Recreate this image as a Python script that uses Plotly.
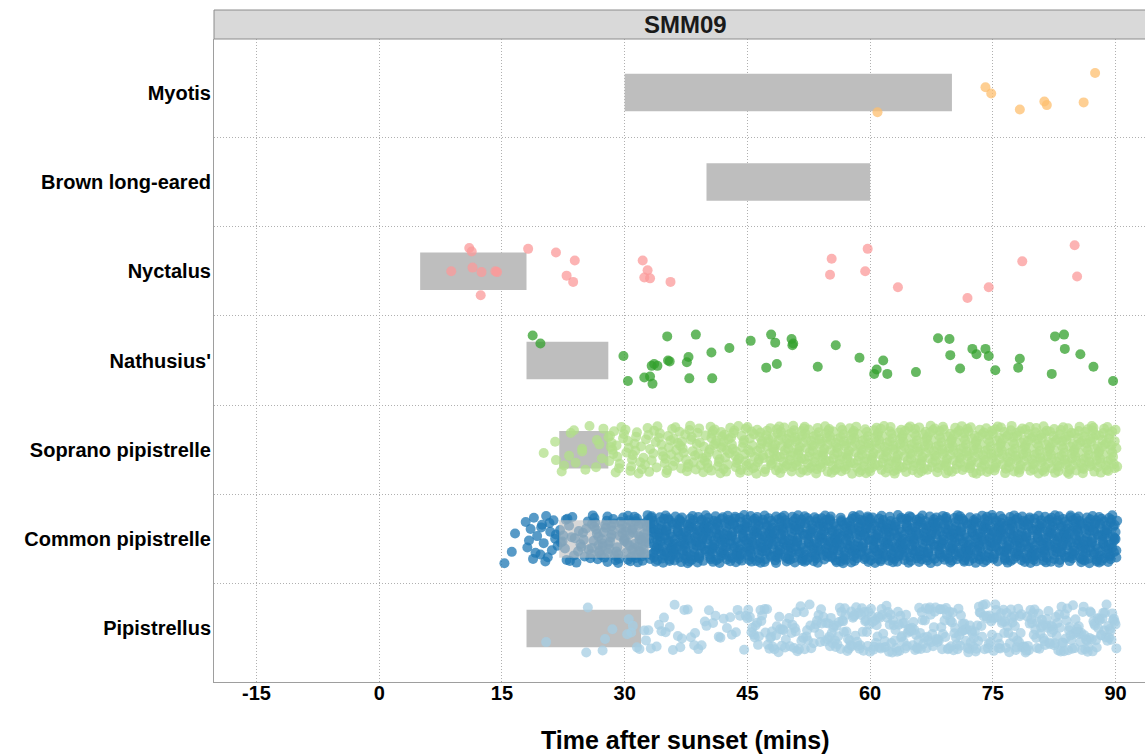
import plotly.graph_objects as go

# ---------------- data ----------------
species = ["Pipistrellus", "Common pipistrelle", "Soprano pipistrelle",
           "Nathusius'", "Nyctalus", "Brown long-eared", "Myotis"]
colors = ["#A6CEE3", "#1F78B4", "#B2DF8A", "#33A02C", "#FB9A99", "#FDBF6F", "#FDBF6F"]

bar_start = [18, 22, 22, 18, 5, 40, 30]
bar_end = [32, 33, 28, 28, 18, 60, 70]

x_ticks = [-15, 0, 15, 30, 45, 60, 75, 90]
panel_label = "SMM09"
x_title = "Time after sunset (mins)"

myotis_times = [74.1, 74.8, 60.9, 78.3, 81.3, 81.6, 86.1, 87.5]
myotis_jit = [0.06, -0.01, -0.22, -0.19, -0.10, -0.14, -0.11, 0.22]

nyctalus_times = [11.0, 11.3, 18.2, 21.6, 23.9, 22.9, 23.7, 8.8, 11.4, 12.5, 14.2, 14.4, 12.4,
                  32.2, 32.8, 32.4, 33.1, 35.6, 55.3, 55.1, 59.7, 59.4, 63.4, 71.9, 74.5, 78.6,
                  85.0, 85.3]
nyctalus_jit = [0.26, 0.22, 0.25, 0.21, 0.12, -0.05, -0.12, 0.0, 0.04, -0.01, 0.0, -0.01, -0.27,
                0.12, 0.01, -0.07, -0.08, -0.12, 0.14, -0.04, 0.25, 0.0, -0.18, -0.30, -0.18, 0.11,
                0.29, -0.06]

nathusius_times = [18.75, 19.7, 29.85, 30.4, 32.4, 33.1, 33.4, 33.3, 33.6, 34.0, 35.2, 35.3, 35.5,
                   37.6, 37.8, 37.9, 38.7, 40.6, 40.7, 42.8, 45.4, 47.3, 47.9, 48.4, 48.6, 50.4,
                   50.6, 50.5, 53.6, 55.8, 58.7, 60.5, 60.8, 61.6, 62.1, 65.6, 68.3, 69.7, 69.8,
                   71.0, 72.5, 73.0, 74.1, 74.5, 75.3, 78.1, 78.3, 82.2, 82.6, 83.7, 83.8, 85.7,
                   87.3, 89.7]
nathusius_jit = [0.28, 0.19, 0.05, -0.23, -0.19, -0.18, -0.26, -0.06, -0.04, -0.06, 0.27, 0.0, -0.01,
                 -0.02, 0.04, -0.20, 0.29, 0.09, -0.20, 0.14, 0.22, -0.08, 0.29, 0.20, -0.04, 0.24,
                 0.19, 0.17, -0.07, 0.17, 0.03, -0.15, -0.10, 0.0, -0.15, -0.13, 0.25, 0.24, 0.06,
                 -0.09, 0.13, 0.07, 0.13, 0.05, -0.11, -0.08, 0.02, -0.15, 0.27, 0.29, 0.13, 0.07,
                 -0.07, -0.23]

common_times = [
    15.3, 16.6, 16.2, 17.9, 18.3, 18.8, 18.5, 18.1, 18.9, 19.3, 19.7, 19.9, 20.1, 20.3, 20.9, 21.1, 21.3, 21.5, 20.6, 19.8, 21.8, 20.4, 21.6, 19.1, 20.8,
    22.4, 22.9, 22.1, 22.7, 23.0, 23.5, 23.8, 23.2, 24.6, 24.1, 24.9, 24.3, 25.5, 25.0, 25.8, 25.3, 24.7, 23.6, 22.5, 25.9, 26.0, 22.2, 23.3, 24.4, 25.6, 22.8, 23.9, 25.1,
    26.3, 26.8, 26.1, 26.6, 26.9, 26.4, 26.2, 26.7, 26.5, 26.0, 26.3, 26.8,
    27.1, 27.6, 27.3, 27.9, 27.4, 27.0, 27.8, 27.2, 27.5, 27.7, 27.3, 27.9,
    28.4, 28.0, 28.7, 28.2, 28.9, 28.5, 28.1, 28.6, 28.3, 28.8, 28.4, 28.0,
    29.2, 29.7, 29.0, 29.5, 29.9, 29.3, 29.6, 29.1, 29.8, 29.4, 29.2, 29.7,
    30.3, 30.7, 30.1, 30.9, 30.5, 30.0, 30.8, 30.2, 30.6, 30.4, 30.6, 30.2, 30.8, 30.0, 30.4, 30.9,
    31.1, 31.5, 31.9, 31.3, 31.7, 31.2, 31.6, 31.0, 31.8, 31.4, 31.8, 31.4, 31.0, 31.6, 31.2, 31.7,
    32.4, 32.0, 32.6, 32.2, 32.8, 32.3, 32.9, 32.5, 32.1, 32.7, 32.2, 32.8, 32.4, 32.0, 32.6, 32.1,
    33.1, 33.5, 33.9, 33.3, 33.7, 33.2, 33.6, 33.0, 33.8, 33.4, 33.8, 33.4, 33.0, 33.6, 33.2, 33.7, 33.3, 33.9, 33.5, 33.1,
    34.4, 34.0, 34.6, 34.2, 34.8, 34.3, 34.9, 34.5, 34.1, 34.7, 34.2, 34.8, 34.4, 34.0, 34.6, 34.1, 34.7, 34.3, 34.9, 34.5,
    35.9, 35.3, 35.5, 35.1, 35.7, 35.4, 35.0, 35.6, 35.2, 35.8, 35.0, 35.6, 35.2, 35.8, 35.4, 35.5, 35.1, 35.7, 35.3, 35.9,
    36.3, 36.7, 36.1, 36.9, 36.5, 36.0, 36.8, 36.2, 36.6, 36.4, 36.6, 36.2, 36.8, 36.0, 36.4, 36.9, 36.1, 36.5, 36.3, 36.7,
    37.1, 37.5, 37.9, 37.3, 37.7, 37.2, 37.6, 37.0, 37.8, 37.4, 37.8, 37.4, 37.0, 37.6, 37.2, 37.7, 37.3, 37.9, 37.5, 37.1,
    38.4, 38.0, 38.6, 38.2, 38.8, 38.3, 38.9, 38.5, 38.1, 38.7, 38.2, 38.8, 38.4, 38.0, 38.6, 38.1, 38.7, 38.3, 38.9, 38.5,
    39.9, 39.3, 39.5, 39.1, 39.7, 39.4, 39.0, 39.6, 39.2, 39.8, 39.0, 39.6, 39.2, 39.8, 39.4, 39.5, 39.1, 39.7, 39.3, 39.9,
    40.3, 40.7, 40.1, 40.9, 40.5, 40.0, 40.8, 40.2, 40.6, 40.4, 40.6, 40.2, 40.8, 40.0, 40.4, 40.9, 40.1, 40.5, 40.3, 40.7,
    41.1, 41.5, 41.9, 41.3, 41.7, 41.2, 41.6, 41.0, 41.8, 41.4, 41.8, 41.4, 41.0, 41.6, 41.2, 41.7, 41.3, 41.9, 41.5, 41.1,
    42.4, 42.0, 42.6, 42.2, 42.8, 42.3, 42.9, 42.5, 42.1, 42.7, 42.2, 42.8, 42.4, 42.0, 42.6, 42.1, 42.7, 42.3, 42.9, 42.5,
    43.9, 43.3, 43.5, 43.1, 43.7, 43.4, 43.0, 43.6, 43.2, 43.8, 43.0, 43.6, 43.2, 43.8, 43.4, 43.5, 43.1, 43.7, 43.3, 43.9,
    44.3, 44.7, 44.1, 44.9, 44.5, 44.0, 44.8, 44.2, 44.6, 44.4, 44.6, 44.2, 44.8, 44.0, 44.4, 44.9, 44.1, 44.5, 44.3, 44.7,
    45.1, 45.5, 45.9, 45.3, 45.7, 45.2, 45.6, 45.0, 45.8, 45.4, 45.8, 45.4, 45.0, 45.6, 45.2, 45.7, 45.3, 45.9, 45.5, 45.1,
    46.4, 46.0, 46.6, 46.2, 46.8, 46.3, 46.9, 46.5, 46.1, 46.7, 46.2, 46.8, 46.4, 46.0, 46.6, 46.1, 46.7, 46.3, 46.9, 46.5,
    47.9, 47.3, 47.5, 47.1, 47.7, 47.4, 47.0, 47.6, 47.2, 47.8, 47.0, 47.6, 47.2, 47.8, 47.4, 47.5, 47.1, 47.7, 47.3, 47.9,
    48.3, 48.7, 48.1, 48.9, 48.5, 48.0, 48.8, 48.2, 48.6, 48.4, 48.6, 48.2, 48.8, 48.0, 48.4, 48.9, 48.1, 48.5, 48.3, 48.7,
    49.1, 49.5, 49.9, 49.3, 49.7, 49.2, 49.6, 49.0, 49.8, 49.4, 49.8, 49.4, 49.0, 49.6, 49.2, 49.7, 49.3, 49.9, 49.5, 49.1,
    50.4, 50.0, 50.6, 50.2, 50.8, 50.3, 50.9, 50.5, 50.1, 50.7, 50.2, 50.8, 50.4, 50.0, 50.6, 50.1, 50.7, 50.3, 50.9, 50.5,
    51.9, 51.3, 51.5, 51.1, 51.7, 51.4, 51.0, 51.6, 51.2, 51.8, 51.0, 51.6, 51.2, 51.8, 51.4, 51.5, 51.1, 51.7, 51.3, 51.9,
    52.3, 52.7, 52.1, 52.9, 52.5, 52.0, 52.8, 52.2, 52.6, 52.4, 52.6, 52.2, 52.8, 52.0, 52.4, 52.9, 52.1, 52.5, 52.3, 52.7,
    53.1, 53.5, 53.9, 53.3, 53.7, 53.2, 53.6, 53.0, 53.8, 53.4, 53.8, 53.4, 53.0, 53.6, 53.2, 53.7, 53.3, 53.9, 53.5, 53.1,
    54.4, 54.0, 54.6, 54.2, 54.8, 54.3, 54.9, 54.5, 54.1, 54.7, 54.2, 54.8, 54.4, 54.0, 54.6, 54.1, 54.7, 54.3, 54.9, 54.5,
    55.9, 55.3, 55.5, 55.1, 55.7, 55.4, 55.0, 55.6, 55.2, 55.8, 55.0, 55.6, 55.2, 55.8, 55.4, 55.5, 55.1, 55.7, 55.3, 55.9,
    56.3, 56.7, 56.1, 56.9, 56.5, 56.0, 56.8, 56.2, 56.6, 56.4, 56.6, 56.2, 56.8, 56.0, 56.4, 56.9, 56.1, 56.5, 56.3, 56.7,
    57.1, 57.5, 57.9, 57.3, 57.7, 57.2, 57.6, 57.0, 57.8, 57.4, 57.8, 57.4, 57.0, 57.6, 57.2, 57.7, 57.3, 57.9, 57.5, 57.1,
    58.4, 58.0, 58.6, 58.2, 58.8, 58.3, 58.9, 58.5, 58.1, 58.7, 58.2, 58.8, 58.4, 58.0, 58.6, 58.1, 58.7, 58.3, 58.9, 58.5,
    59.9, 59.3, 59.5, 59.1, 59.7, 59.4, 59.0, 59.6, 59.2, 59.8, 59.0, 59.6, 59.2, 59.8, 59.4, 59.5, 59.1, 59.7, 59.3, 59.9,
    60.3, 60.7, 60.1, 60.9, 60.5, 60.0, 60.8, 60.2, 60.6, 60.4, 60.6, 60.2, 60.8, 60.0, 60.4, 60.9, 60.1, 60.5, 60.3, 60.7,
    61.1, 61.5, 61.9, 61.3, 61.7, 61.2, 61.6, 61.0, 61.8, 61.4, 61.8, 61.4, 61.0, 61.6, 61.2, 61.7, 61.3, 61.9, 61.5, 61.1,
    62.4, 62.0, 62.6, 62.2, 62.8, 62.3, 62.9, 62.5, 62.1, 62.7, 62.2, 62.8, 62.4, 62.0, 62.6, 62.1, 62.7, 62.3, 62.9, 62.5,
    63.9, 63.3, 63.5, 63.1, 63.7, 63.4, 63.0, 63.6, 63.2, 63.8, 63.0, 63.6, 63.2, 63.8, 63.4, 63.5, 63.1, 63.7, 63.3, 63.9,
    64.3, 64.7, 64.1, 64.9, 64.5, 64.0, 64.8, 64.2, 64.6, 64.4, 64.6, 64.2, 64.8, 64.0, 64.4, 64.9, 64.1, 64.5, 64.3, 64.7,
    65.1, 65.5, 65.9, 65.3, 65.7, 65.2, 65.6, 65.0, 65.8, 65.4, 65.8, 65.4, 65.0, 65.6, 65.2, 65.7, 65.3, 65.9, 65.5, 65.1,
    66.4, 66.0, 66.6, 66.2, 66.8, 66.3, 66.9, 66.5, 66.1, 66.7, 66.2, 66.8, 66.4, 66.0, 66.6, 66.1, 66.7, 66.3, 66.9, 66.5,
    67.9, 67.3, 67.5, 67.1, 67.7, 67.4, 67.0, 67.6, 67.2, 67.8, 67.0, 67.6, 67.2, 67.8, 67.4, 67.5, 67.1, 67.7, 67.3, 67.9,
    68.3, 68.7, 68.1, 68.9, 68.5, 68.0, 68.8, 68.2, 68.6, 68.4, 68.6, 68.2, 68.8, 68.0, 68.4, 68.9, 68.1, 68.5, 68.3, 68.7,
    69.1, 69.5, 69.9, 69.3, 69.7, 69.2, 69.6, 69.0, 69.8, 69.4, 69.8, 69.4, 69.0, 69.6, 69.2, 69.7, 69.3, 69.9, 69.5, 69.1,
    70.4, 70.0, 70.6, 70.2, 70.8, 70.3, 70.9, 70.5, 70.1, 70.7, 70.2, 70.8, 70.4, 70.0, 70.6, 70.1, 70.7, 70.3, 70.9, 70.5,
    71.9, 71.3, 71.5, 71.1, 71.7, 71.4, 71.0, 71.6, 71.2, 71.8, 71.0, 71.6, 71.2, 71.8, 71.4, 71.5, 71.1, 71.7, 71.3, 71.9,
    72.3, 72.7, 72.1, 72.9, 72.5, 72.0, 72.8, 72.2, 72.6, 72.4, 72.6, 72.2, 72.8, 72.0, 72.4, 72.9, 72.1, 72.5, 72.3, 72.7,
    73.1, 73.5, 73.9, 73.3, 73.7, 73.2, 73.6, 73.0, 73.8, 73.4, 73.8, 73.4, 73.0, 73.6, 73.2, 73.7, 73.3, 73.9, 73.5, 73.1,
    74.4, 74.0, 74.6, 74.2, 74.8, 74.3, 74.9, 74.5, 74.1, 74.7, 74.2, 74.8, 74.4, 74.0, 74.6, 74.1, 74.7, 74.3, 74.9, 74.5,
    75.9, 75.3, 75.5, 75.1, 75.7, 75.4, 75.0, 75.6, 75.2, 75.8, 75.0, 75.6, 75.2, 75.8, 75.4, 75.5, 75.1, 75.7, 75.3, 75.9,
    76.3, 76.7, 76.1, 76.9, 76.5, 76.0, 76.8, 76.2, 76.6, 76.4, 76.6, 76.2, 76.8, 76.0, 76.4, 76.9, 76.1, 76.5, 76.3, 76.7,
    77.1, 77.5, 77.9, 77.3, 77.7, 77.2, 77.6, 77.0, 77.8, 77.4, 77.8, 77.4, 77.0, 77.6, 77.2, 77.7, 77.3, 77.9, 77.5, 77.1,
    78.4, 78.0, 78.6, 78.2, 78.8, 78.3, 78.9, 78.5, 78.1, 78.7, 78.2, 78.8, 78.4, 78.0, 78.6, 78.1, 78.7, 78.3, 78.9, 78.5,
    79.9, 79.3, 79.5, 79.1, 79.7, 79.4, 79.0, 79.6, 79.2, 79.8, 79.0, 79.6, 79.2, 79.8, 79.4, 79.5, 79.1, 79.7, 79.3, 79.9,
    80.3, 80.7, 80.1, 80.9, 80.5, 80.0, 80.8, 80.2, 80.6, 80.4, 80.6, 80.2, 80.8, 80.0, 80.4, 80.9, 80.1, 80.5, 80.3, 80.7,
    81.1, 81.5, 81.9, 81.3, 81.7, 81.2, 81.6, 81.0, 81.8, 81.4, 81.8, 81.4, 81.0, 81.6, 81.2, 81.7, 81.3, 81.9, 81.5, 81.1,
    82.4, 82.0, 82.6, 82.2, 82.8, 82.3, 82.9, 82.5, 82.1, 82.7, 82.2, 82.8, 82.4, 82.0, 82.6, 82.1, 82.7, 82.3, 82.9, 82.5,
    83.9, 83.3, 83.5, 83.1, 83.7, 83.4, 83.0, 83.6, 83.2, 83.8, 83.0, 83.6, 83.2, 83.8, 83.4, 83.5, 83.1, 83.7, 83.3, 83.9,
    84.3, 84.7, 84.1, 84.9, 84.5, 84.0, 84.8, 84.2, 84.6, 84.4, 84.6, 84.2, 84.8, 84.0, 84.4, 84.9, 84.1, 84.5, 84.3, 84.7,
    85.1, 85.5, 85.9, 85.3, 85.7, 85.2, 85.6, 85.0, 85.8, 85.4, 85.8, 85.4, 85.0, 85.6, 85.2, 85.7, 85.3, 85.9, 85.5, 85.1,
    86.4, 86.0, 86.6, 86.2, 86.8, 86.3, 86.9, 86.5, 86.1, 86.7, 86.2, 86.8, 86.4, 86.0, 86.6, 86.1, 86.7, 86.3, 86.9, 86.5,
    87.9, 87.3, 87.5, 87.1, 87.7, 87.4, 87.0, 87.6, 87.2, 87.8, 87.0, 87.6, 87.2, 87.8, 87.4, 87.5, 87.1, 87.7, 87.3, 87.9,
    88.3, 88.7, 88.1, 88.9, 88.5, 88.0, 88.8, 88.2, 88.6, 88.4, 88.6, 88.2, 88.8, 88.0, 88.4, 88.9, 88.1, 88.5, 88.3, 88.7,
    89.1, 89.5, 89.9, 89.3, 89.7, 89.2, 89.6, 89.0, 89.8, 89.4, 89.8, 89.4, 89.0, 89.6, 89.2, 89.7, 89.3, 89.9, 89.5, 89.1,
    90.0, 90.1, 90.2, 90.0, 90.1,
]

soprano_times = [
    20.1, 22.3, 21.5, 21.6, 23.8, 24.8, 26.5, 28.0, 23.2, 25.7, 26.9, 24.0, 23.4, 24.8, 25.2, 26.6, 27.2, 27.4, 28.3, 22.6,
    28.2, 28.6, 28.9, 28.4, 28.1, 28.7, 28.5,
    29.3, 29.8, 29.1, 29.6, 29.0, 29.4, 29.9,
    30.2, 30.7, 30.4, 30.9, 30.1, 30.5, 30.8,
    31.4, 31.0, 31.7, 31.2, 31.9, 31.5, 31.3,
    32.1, 32.6, 32.3, 32.8, 32.0, 32.5, 32.9,
    33.5, 33.0, 33.8, 33.3, 33.6, 33.1, 33.9,
    34.2, 34.7, 34.0, 34.5, 34.9, 34.3, 34.6,
    35.2, 35.6, 35.0, 35.8, 35.4, 35.9, 35.3, 35.7, 35.1,
    36.5, 36.1, 36.7, 36.3, 36.9, 36.0, 36.6, 36.2, 36.8,
    37.8, 37.4, 37.2, 37.6, 37.0, 37.5, 37.9, 37.1, 37.7,
    38.2, 38.6, 38.0, 38.8, 38.4, 38.9, 38.3, 38.7, 38.1,
    39.5, 39.1, 39.7, 39.3, 39.9, 39.0, 39.6, 39.2, 39.8,
    40.8, 40.4, 40.2, 40.6, 40.0, 40.5, 40.9, 40.1, 40.7, 40.3, 40.6,
    41.2, 41.6, 41.0, 41.8, 41.4, 41.9, 41.3, 41.7, 41.1, 41.5, 41.8,
    42.5, 42.1, 42.7, 42.3, 42.9, 42.0, 42.6, 42.2, 42.8, 42.4, 42.1,
    43.8, 43.4, 43.2, 43.6, 43.0, 43.5, 43.9, 43.1, 43.7, 43.3, 43.6,
    44.2, 44.6, 44.0, 44.8, 44.4, 44.9, 44.3, 44.7, 44.1, 44.5, 44.8,
    45.5, 45.1, 45.7, 45.3, 45.9, 45.0, 45.6, 45.2, 45.8, 45.4, 45.1,
    46.8, 46.4, 46.2, 46.6, 46.0, 46.5, 46.9, 46.1, 46.7, 46.3, 46.6, 46.2,
    47.2, 47.6, 47.0, 47.8, 47.4, 47.9, 47.3, 47.7, 47.1, 47.5, 47.8, 47.4,
    48.3, 48.8, 48.1, 48.6, 48.9, 48.4, 48.0, 48.7, 48.2, 48.5, 48.8, 48.3, 48.6, 48.1,
    49.7, 49.2, 49.5, 49.0, 49.9, 49.4, 49.1, 49.6, 49.3, 49.8, 49.0, 49.5, 49.2, 49.9,
    50.1, 50.6, 50.4, 50.9, 50.2, 50.7, 50.0, 50.5, 50.8, 50.3, 50.6, 50.1, 50.9, 50.4,
    51.3, 51.8, 51.1, 51.6, 51.9, 51.4, 51.0, 51.7, 51.2, 51.5, 51.8, 51.3, 51.6, 51.1,
    52.7, 52.2, 52.5, 52.0, 52.9, 52.4, 52.1, 52.6, 52.3, 52.8, 52.0, 52.5, 52.2, 52.9,
    53.1, 53.6, 53.4, 53.9, 53.2, 53.7, 53.0, 53.5, 53.8, 53.3, 53.6, 53.1, 53.9, 53.4,
    54.3, 54.8, 54.1, 54.6, 54.9, 54.4, 54.0, 54.7, 54.2, 54.5, 54.8, 54.3, 54.6, 54.1,
    55.7, 55.2, 55.5, 55.0, 55.9, 55.4, 55.1, 55.6, 55.3, 55.8, 55.0, 55.5, 55.2, 55.9,
    56.1, 56.6, 56.4, 56.9, 56.2, 56.7, 56.0, 56.5, 56.8, 56.3, 56.6, 56.1, 56.9, 56.4,
    57.3, 57.8, 57.1, 57.6, 57.9, 57.4, 57.0, 57.7, 57.2, 57.5, 57.8, 57.3, 57.6, 57.1,
    58.7, 58.2, 58.5, 58.0, 58.9, 58.4, 58.1, 58.6, 58.3, 58.8, 58.0, 58.5, 58.2, 58.9,
    59.1, 59.6, 59.4, 59.9, 59.2, 59.7, 59.0, 59.5, 59.8, 59.3, 59.6, 59.1, 59.9, 59.4,
    60.3, 60.8, 60.1, 60.6, 60.9, 60.4, 60.0, 60.7, 60.2, 60.5, 60.8, 60.3, 60.6, 60.1,
    61.7, 61.2, 61.5, 61.0, 61.9, 61.4, 61.1, 61.6, 61.3, 61.8, 61.0, 61.5, 61.2, 61.9,
    62.1, 62.6, 62.4, 62.9, 62.2, 62.7, 62.0, 62.5, 62.8, 62.3, 62.6, 62.1, 62.9, 62.4,
    63.3, 63.8, 63.1, 63.6, 63.9, 63.4, 63.0, 63.7, 63.2, 63.5, 63.8, 63.3, 63.6, 63.1,
    64.7, 64.2, 64.5, 64.0, 64.9, 64.4, 64.1, 64.6, 64.3, 64.8, 64.0, 64.5, 64.2, 64.9,
    65.1, 65.6, 65.4, 65.9, 65.2, 65.7, 65.0, 65.5, 65.8, 65.3, 65.6, 65.1, 65.9, 65.4,
    66.3, 66.8, 66.1, 66.6, 66.9, 66.4, 66.0, 66.7, 66.2, 66.5, 66.8, 66.3, 66.6, 66.1,
    67.7, 67.2, 67.5, 67.0, 67.9, 67.4, 67.1, 67.6, 67.3, 67.8, 67.0, 67.5, 67.2, 67.9,
    68.1, 68.6, 68.4, 68.9, 68.2, 68.7, 68.0, 68.5, 68.8, 68.3, 68.6, 68.1, 68.9, 68.4,
    69.3, 69.8, 69.1, 69.6, 69.9, 69.4, 69.0, 69.7, 69.2, 69.5, 69.8, 69.3, 69.6, 69.1,
    70.7, 70.2, 70.5, 70.0, 70.9, 70.4, 70.1, 70.6, 70.3, 70.8, 70.0, 70.5, 70.2, 70.9,
    71.1, 71.6, 71.4, 71.9, 71.2, 71.7, 71.0, 71.5, 71.8, 71.3, 71.6, 71.1, 71.9, 71.4,
    72.3, 72.8, 72.1, 72.6, 72.9, 72.4, 72.0, 72.7, 72.2, 72.5, 72.8, 72.3, 72.6, 72.1,
    73.7, 73.2, 73.5, 73.0, 73.9, 73.4, 73.1, 73.6, 73.3, 73.8, 73.0, 73.5, 73.2, 73.9,
    74.1, 74.6, 74.4, 74.9, 74.2, 74.7, 74.0, 74.5, 74.8, 74.3, 74.6, 74.1, 74.9, 74.4,
    75.3, 75.8, 75.1, 75.6, 75.9, 75.4, 75.0, 75.7, 75.2, 75.5, 75.8, 75.3, 75.6, 75.1,
    76.7, 76.2, 76.5, 76.0, 76.9, 76.4, 76.1, 76.6, 76.3, 76.8, 76.0, 76.5, 76.2, 76.9,
    77.1, 77.6, 77.4, 77.9, 77.2, 77.7, 77.0, 77.5, 77.8, 77.3, 77.6, 77.1, 77.9, 77.4,
    78.3, 78.8, 78.1, 78.6, 78.9, 78.4, 78.0, 78.7, 78.2, 78.5, 78.8, 78.3, 78.6, 78.1,
    79.7, 79.2, 79.5, 79.0, 79.9, 79.4, 79.1, 79.6, 79.3, 79.8, 79.0, 79.5, 79.2, 79.9,
    80.1, 80.6, 80.4, 80.9, 80.2, 80.7, 80.0, 80.5, 80.8, 80.3, 80.6, 80.1, 80.9, 80.4,
    81.3, 81.8, 81.1, 81.6, 81.9, 81.4, 81.0, 81.7, 81.2, 81.5, 81.8, 81.3, 81.6, 81.1,
    82.7, 82.2, 82.5, 82.0, 82.9, 82.4, 82.1, 82.6, 82.3, 82.8, 82.0, 82.5, 82.2, 82.9,
    83.1, 83.6, 83.4, 83.9, 83.2, 83.7, 83.0, 83.5, 83.8, 83.3, 83.6, 83.1, 83.9, 83.4,
    84.3, 84.8, 84.1, 84.6, 84.9, 84.4, 84.0, 84.7, 84.2, 84.5, 84.8, 84.3, 84.6, 84.1,
    85.7, 85.2, 85.5, 85.0, 85.9, 85.4, 85.1, 85.6, 85.3, 85.8, 85.0, 85.5, 85.2, 85.9,
    86.1, 86.6, 86.4, 86.9, 86.2, 86.7, 86.0, 86.5, 86.8, 86.3, 86.6, 86.1, 86.9, 86.4,
    87.3, 87.8, 87.1, 87.6, 87.9, 87.4, 87.0, 87.7, 87.2, 87.5, 87.8, 87.3, 87.6, 87.1,
    88.7, 88.2, 88.5, 88.0, 88.9, 88.4, 88.1, 88.6, 88.3, 88.8, 88.0, 88.5, 88.2, 88.9,
    89.1, 89.6, 89.4, 89.9, 89.2, 89.7, 89.0, 89.5, 89.8, 89.3, 89.6, 89.1, 89.9, 89.4,
    90.0, 90.1, 90.2,
]

pip_times = [
    20.4, 27.3, 27.6, 25.5, 25.3, 28.5,
    30.3, 30.5, 30.8, 31.0, 31.5, 31.8, 32.4, 32.6, 32.9, 33.2, 33.9, 34.2, 34.5, 34.8,
    35.0, 35.5, 35.9, 36.1, 36.5, 36.8, 37.0, 37.3, 37.7, 38.1, 38.5, 38.6, 39.0, 39.4,
    39.8, 40.0, 40.3, 40.8, 41.1, 41.5, 41.7, 42.1, 42.5, 42.9, 43.1, 43.6, 43.8, 44.1,
    44.6, 44.8,
    45.1, 45.5, 45.8, 45.3, 45.6, 45.0, 45.9,
    46.4, 46.8, 46.2, 46.6, 46.0, 46.7, 46.3,
    47.7, 47.2, 47.5, 47.9, 47.1, 47.4, 47.8,
    48.1, 48.5, 48.8, 48.3, 48.6, 48.0, 48.9,
    49.4, 49.8, 49.2, 49.6, 49.0, 49.7, 49.3,
    50.7, 50.2, 50.5, 50.9, 50.1, 50.4, 50.8,
    51.1, 51.5, 51.8, 51.3, 51.6, 51.0, 51.9,
    52.4, 52.8, 52.2, 52.6, 52.0, 52.7, 52.3,
    53.7, 53.2, 53.5, 53.9, 53.1, 53.4, 53.8,
    54.1, 54.5, 54.8, 54.3, 54.6, 54.0, 54.9,
    55.2, 55.7, 55.4, 55.9, 55.0, 55.5, 55.8, 55.1, 55.6, 55.3,
    56.6, 56.1, 56.8, 56.3, 56.5, 56.0, 56.9, 56.4, 56.7, 56.2,
    57.2, 57.7, 57.4, 57.9, 57.0, 57.5, 57.8, 57.1, 57.6, 57.3,
    58.6, 58.1, 58.8, 58.3, 58.5, 58.0, 58.9, 58.4, 58.7, 58.2,
    59.2, 59.7, 59.4, 59.9, 59.0, 59.5, 59.8, 59.1, 59.6, 59.3,
    60.6, 60.1, 60.8, 60.3, 60.5, 60.0, 60.9, 60.4, 60.7, 60.2,
    61.2, 61.7, 61.4, 61.9, 61.0, 61.5, 61.8, 61.1, 61.6, 61.3,
    62.6, 62.1, 62.8, 62.3, 62.5, 62.0, 62.9, 62.4, 62.7, 62.2,
    63.2, 63.7, 63.4, 63.9, 63.0, 63.5, 63.8, 63.1, 63.6, 63.3,
    64.6, 64.1, 64.8, 64.3, 64.5, 64.0, 64.9, 64.4, 64.7, 64.2,
    65.2, 65.7, 65.4, 65.9, 65.0, 65.5, 65.8, 65.1, 65.6, 65.3,
    66.6, 66.1, 66.8, 66.3, 66.5, 66.0, 66.9, 66.4, 66.7, 66.2,
    67.2, 67.7, 67.4, 67.9, 67.0, 67.5, 67.8, 67.1, 67.6, 67.3,
    68.6, 68.1, 68.8, 68.3, 68.5, 68.0, 68.9, 68.4, 68.7, 68.2,
    69.2, 69.7, 69.4, 69.9, 69.0, 69.5, 69.8, 69.1, 69.6, 69.3,
    70.6, 70.1, 70.8, 70.3, 70.5, 70.0, 70.9, 70.4, 70.7, 70.2,
    71.2, 71.7, 71.4, 71.9, 71.0, 71.5, 71.8, 71.1, 71.6, 71.3,
    72.6, 72.1, 72.8, 72.3, 72.5, 72.0, 72.9, 72.4, 72.7, 72.2,
    73.2, 73.7, 73.4, 73.9, 73.0, 73.5, 73.8, 73.1, 73.6, 73.3,
    74.6, 74.1, 74.8, 74.3, 74.5, 74.0, 74.9, 74.4, 74.7, 74.2,
    75.2, 75.7, 75.4, 75.9, 75.0, 75.5, 75.8, 75.1, 75.6, 75.3,
    76.6, 76.1, 76.8, 76.3, 76.5, 76.0, 76.9, 76.4, 76.7, 76.2,
    77.2, 77.7, 77.4, 77.9, 77.0, 77.5, 77.8, 77.1, 77.6, 77.3,
    78.6, 78.1, 78.8, 78.3, 78.5, 78.0, 78.9, 78.4, 78.7, 78.2,
    79.2, 79.7, 79.4, 79.9, 79.0, 79.5, 79.8, 79.1, 79.6, 79.3,
    80.6, 80.1, 80.8, 80.3, 80.5, 80.0, 80.9, 80.4, 80.7, 80.2,
    81.2, 81.7, 81.4, 81.9, 81.0, 81.5, 81.8, 81.1, 81.6, 81.3,
    82.6, 82.1, 82.8, 82.3, 82.5, 82.0, 82.9, 82.4, 82.7, 82.2,
    83.2, 83.7, 83.4, 83.9, 83.0, 83.5, 83.8, 83.1, 83.6, 83.3,
    84.6, 84.1, 84.8, 84.3, 84.5, 84.0, 84.9, 84.4, 84.7, 84.2,
    85.2, 85.7, 85.4, 85.9, 85.0, 85.5, 85.8, 85.1, 85.6, 85.3,
    86.6, 86.1, 86.8, 86.3, 86.5, 86.0, 86.9, 86.4, 86.7, 86.2,
    87.2, 87.7, 87.4, 87.9, 87.0, 87.5, 87.8, 87.1, 87.6, 87.3,
    88.6, 88.1, 88.8, 88.3, 88.5, 88.0, 88.9, 88.4, 88.7, 88.2,
    89.2, 89.7, 89.4, 89.9, 89.0, 89.5, 89.8, 89.1, 89.6, 89.3,
    90.0, 90.1,
]

# ---------------- figure ----------------
GOLD = 0.6180339887
QUAD = 0.2071067812


def spread(n, amp, phase, quad=0.0):
    # deterministic (non-random) vertical spreading of overlapping marks, like a jitter layout
    return [amp * (2.0 * (((k + phase) * GOLD + k * k * quad) % 1.0) - 1.0) for k in range(n)]


FONT = "Liberation Sans, Arial, Helvetica, sans-serif"
fig = go.Figure()


def add_points(times, offsets, idx, size=10):
    fig.add_trace(go.Scatter(
        x=times, y=[idx + o for o in offsets], mode="markers",
        marker=dict(size=size, color=colors[idx], opacity=0.75, line=dict(width=0)),
        hoverinfo="x+y", showlegend=False))


add_points(pip_times, spread(len(pip_times), 0.27, 0.35, QUAD), 0)
add_points(common_times, spread(len(common_times), 0.27, 0.0), 1)
add_points(soprano_times, spread(len(soprano_times), 0.27, 0.7), 2)
add_points(nathusius_times, nathusius_jit, 3)
add_points(nyctalus_times, nyctalus_jit, 4)
add_points(myotis_times, myotis_jit, 6)

shapes = []
for i in range(len(species)):
    if i == 1:
        shapes.append(dict(type="rect", xref="x", yref="y", x0=bar_start[i], x1=bar_end[i],
                           y0=i - 0.21, y1=i + 0.21, fillcolor="rgba(190,190,190,0.62)",
                           line=dict(width=0), layer="above"))
    else:
        shapes.append(dict(type="rect", xref="x", yref="y", x0=bar_start[i], x1=bar_end[i],
                           y0=i - 0.21, y1=i + 0.21, fillcolor="#BEBEBE",
                           line=dict(width=0), layer="between"))

# facet strip
strip_h = 29 / 643
shapes.append(dict(type="rect", xref="paper", yref="paper", x0=0, x1=1.02, y0=1, y1=1 + strip_h,
                   fillcolor="#D9D9D9", line=dict(color="#8C8C8C", width=1), layer="above"))

GRID = "#B0B0B0"
fig.update_layout(
    width=1145, height=754,
    margin=dict(l=214, r=0, t=39, b=72),
    plot_bgcolor="white", paper_bgcolor="white",
    font=dict(family=FONT, color="black"),
    showlegend=False,
    shapes=shapes,
    xaxis=dict(range=[-20.2, 93.6], tickmode="array", tickvals=x_ticks,
               ticktext=[str(t) for t in x_ticks], tickfont=dict(size=20, weight="bold", color="black"),
               showgrid=True, gridcolor=GRID, griddash="1px,2px", gridwidth=1,
               zeroline=False, showline=True, linecolor="#9E9E9E", linewidth=1,
               ticks="", ticklabelstandoff=-7),
    yaxis=dict(range=[-0.6, 6.6], tickmode="array", tickvals=list(range(len(species))),
               ticktext=species, tickfont=dict(size=20, weight="bold", color="black"),
               showgrid=False, zeroline=False, showline=True, linecolor="#9E9E9E", linewidth=1,
               ticks="", ticklabelstandoff=-2,
               minor=dict(tickmode="array", tickvals=[0.5, 1.5, 2.5, 3.5, 4.5, 5.5],
                          showgrid=True, gridcolor=GRID, griddash="1px,2px", gridwidth=1,
                          ticks="")),
    annotations=[
        dict(text=panel_label, xref="paper", yref="paper", x=0.506, y=1 + strip_h / 2,
             xanchor="center", yanchor="middle", showarrow=False,
             font=dict(size=24, weight="bold", color="#1A1A1A", family=FONT)),
        dict(text=x_title, xref="paper", yref="paper", x=0.506, y=-58 / 643,
             xanchor="center", yanchor="middle", showarrow=False,
             font=dict(size=25, weight="bold", color="black", family=FONT)),
    ],
)

fig.write_html("out.html")
